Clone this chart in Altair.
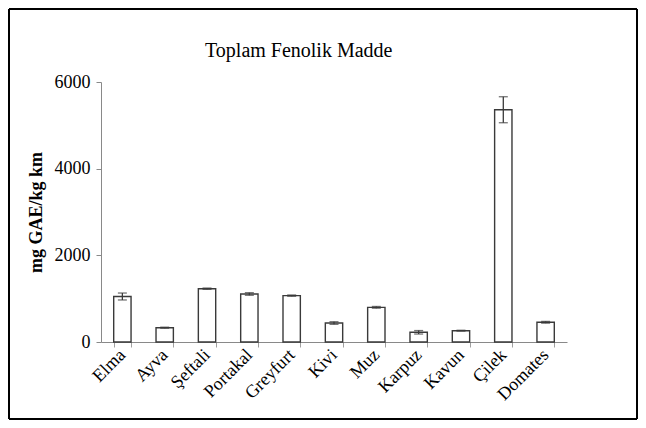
import altair as alt
import pandas as pd

categories = ["Elma", "Ayva", "Şeftali", "Portakal", "Greyfurt", "Kivi", "Muz", "Karpuz", "Kavun", "Çilek", "Domates"]
values = [1050, 330, 1230, 1108, 1070, 438, 800, 224, 261, 5360, 455]
errors = [80, 12, 15, 30, 15, 30, 20, 40, 10, 300, 20]
y_ticks = [0, 2000, 4000, 6000]
chart_title = "Toplam Fenolik Madde"
y_title = "mg GAE/kg km"

df = pd.DataFrame({"cat": categories, "val": values, "err": errors})
df["lo"] = df["val"] - df["err"]
df["hi"] = df["val"] + df["err"]

W, H = 466, 260
PL, PT = 93, 74
TW, TH = 630, 412

xscale = alt.Scale(paddingInner=0.59, paddingOuter=0.3)
yscale = alt.Scale(domain=[0, 6000], nice=False)

bars = alt.Chart(df).mark_bar(fill="white", stroke="#3a3a3a", strokeWidth=1.4).encode(
    x=alt.X("cat:N", sort=categories, title=None, scale=xscale),
    y=alt.Y("val:Q", title=y_title, scale=yscale,
            axis=alt.Axis(values=y_ticks, format="d", grid=False)),
)

errs = alt.Chart(df).mark_errorbar(ticks=alt.MarkConfig(size=9, color="#3a3a3a"), color="#3a3a3a", thickness=1.3).encode(
    x=alt.X("cat:N", sort=categories, scale=xscale, title=None),
    y=alt.Y("lo:Q", scale=yscale, title=y_title,
            axis=alt.Axis(values=y_ticks, format="d", grid=False)),
    y2="hi:Q",
)

frame = alt.Chart(df).mark_rect(fill=None, stroke="#000000", strokeWidth=1).encode(
    x=alt.value(-PL + 1),
    x2=alt.value(TW - PL - 1),
    y=alt.value(-PT + 1),
    y2=alt.value(TH - PT - 1),
)

title = alt.Chart(pd.DataFrame({"t": [chart_title]})).mark_text(
    font="Liberation Serif", fontSize=20, color="#000000", align="left", baseline="alphabetic"
).encode(text="t:N", x=alt.value(104), y=alt.value(-25))

chart = alt.layer(frame, bars, errs, title).properties(
    width=W, height=H,
).configure_view(stroke=None).configure_axisX(
    labelAngle=-45, labelAlign="right", labelBaseline="middle",
    labelFont="Liberation Serif", labelFontSize=18, labelColor="#000000",
    labelPadding=5, tickBand="extent", tickSize=5,
    domainColor="#898989", tickColor="#A0A0A0",
).configure_axisY(
    grid=False,
    labelFont="Liberation Serif", labelFontSize=18, labelColor="#000000",
    labelPadding=6, tickSize=5, domainColor="#898989", tickColor="#898989",
    titleFont="Liberation Serif", titleFontSize=18, titleFontWeight="bold",
    titleColor="#000000", titlePadding=9,
).properties(
    autosize=alt.AutoSizeParams(type="none"),
    padding={"left": PL, "top": PT, "right": TW - PL - W, "bottom": TH - PT - H},
)

chart.save("out.html", embed_options={"renderer": "svg", "actions": False})
